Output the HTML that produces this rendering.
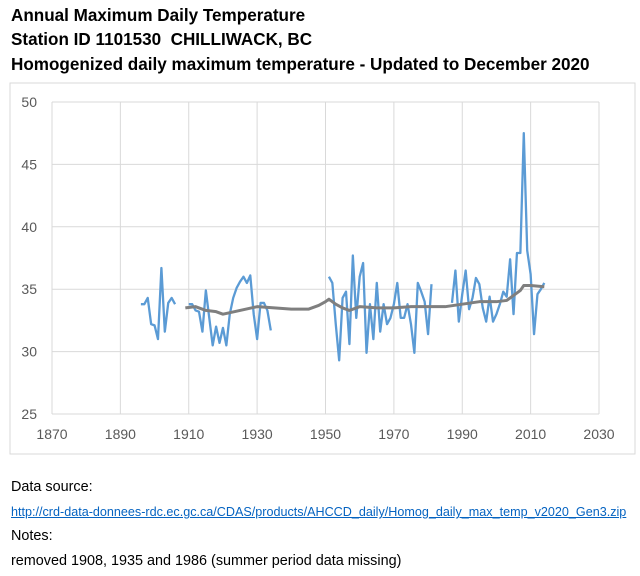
<!DOCTYPE html>
<html><head><meta charset="utf-8"><style>
body{margin:0;background:#fff;width:640px;height:576px;overflow:hidden;font-family:"Liberation Sans",sans-serif;}
.t{position:absolute;left:11px;font-weight:bold;font-size:17.1px;color:#000;white-space:nowrap}
.n{position:absolute;left:11px;font-size:14.4px;color:#000;white-space:nowrap}
</style></head><body>
<div class="t" style="top:6px">Annual Maximum Daily Temperature</div>
<div class="t" style="top:30px">Station ID 1101530&nbsp; CHILLIWACK, BC</div>
<div class="t" style="top:55px">Homogenized daily maximum temperature - Updated to December 2020</div>
<svg style="position:absolute;left:0;top:0" width="640" height="576" id="svg">
<rect x="10" y="83" width="625" height="371" fill="none" stroke="#d9d9d9"/>
</svg>
<div class="n" style="top:479px">Data source:</div>
<a class="n" style="top:505px;font-size:12.6px;color:#0563c1;text-decoration:underline">http://crd-data-donnees-rdc.ec.gc.ca/CDAS/products/AHCCD_daily/Homog_daily_max_temp_v2020_Gen3.zip</a>
<div class="n" style="top:528px">Notes:</div>
<div class="n" style="top:553px">removed 1908, 1935 and 1986 (summer period data missing)</div>
<script>
const xTicks=[1870,1890,1910,1930,1950,1970,1990,2010,2030];
const yTicks=[25,30,35,40,45,50];
const seg1Start=1896;
const seg1=[33.8,33.8,34.3,32.2,32.1,31.0,36.7,31.6,33.9,34.3,33.8];
const seg2Start=1910;
const seg2=[33.8,33.8,33.3,33.2,31.6,34.9,32.7,30.5,32.0,30.7,31.9,30.5,33.0,34.3,35.1,35.6,36.0,35.5,36.1,33.0,31.0,33.9,33.9,33.3,31.7];
const seg3Start=1951;
const seg3=[36.0,35.5,32.2,29.3,34.3,34.8,30.6,37.7,32.7,36.0,37.1,29.9,33.8,31.0,35.5,31.6,33.8,32.2,32.7,33.8,35.5,32.7,32.7,33.8,32.2,29.9,35.5,34.8,34.0,31.4,35.4];
const seg4Start=1987;
const seg4=[33.9,36.5,32.4,34.6,36.5,33.4,34.3,35.9,35.4,33.5,32.4,34.4,32.4,33.0,33.8,34.8,34.4,37.4,33.0,37.9,37.9,47.5,38.1,36.2,31.4,34.6,35.0,35.5];
const avgYears=[1909,1912,1915,1918,1920,1925,1930,1935,1940,1945,1948,1950,1951,1953,1955,1957,1960,1965,1970,1975,1980,1985,1990,1995,2000,2003,2005,2007,2008,2010,2014];
const avgVals=[33.5,33.6,33.3,33.2,33.0,33.3,33.6,33.5,33.4,33.4,33.7,34.0,34.2,33.8,33.5,33.3,33.6,33.5,33.5,33.6,33.6,33.6,33.8,34.0,34.0,34.1,34.5,34.9,35.3,35.3,35.2];
const X=y=>52+(y-1870)*(599-52)/160;
const Y=v=>414-(v-25)*(414-102)/25;
const svg=document.getElementById('svg');const NS='http://www.w3.org/2000/svg';
function mk(t,a){const e=document.createElementNS(NS,t);for(const k in a)e.setAttribute(k,a[k]);svg.appendChild(e);return e;}
yTicks.forEach(v=>{
 const l=mk('line',{x1:52,x2:599,y1:Y(v),y2:Y(v),stroke:'#d9d9d9','stroke-width':1});
 
 
 const t=mk('text',{x:37,y:Y(v)+5,'text-anchor':'end','font-size':14,fill:'#595959','font-family':'Liberation Sans, sans-serif'});t.textContent=v;
 
 
});
xTicks.forEach(v=>{
 const l=mk('line',{x1:X(v),x2:X(v),y1:102,y2:414,stroke:'#d9d9d9','stroke-width':1});
 
 
 const t=mk('text',{x:X(v),y:439,'text-anchor':'middle','font-size':14,fill:'#595959','font-family':'Liberation Sans, sans-serif'});t.textContent=v;
 
 
});
[[seg1Start,seg1],[seg2Start,seg2],[seg3Start,seg3],[seg4Start,seg4]].forEach(([s,a])=>{
 const p=mk('polyline',{points:a.map((v,i)=>X(s+i)+','+Y(v)).join(' '),fill:'none',stroke:'#5b9bd5','stroke-width':2.3,'stroke-linejoin':'round'});
 
 
});
const m=mk('polyline',{points:avgYears.map((y,i)=>X(y)+','+Y(avgVals[i])).join(' '),fill:'none',stroke:'#7f7f7f','stroke-width':3,'stroke-linejoin':'round'});


</script>
</body></html>
